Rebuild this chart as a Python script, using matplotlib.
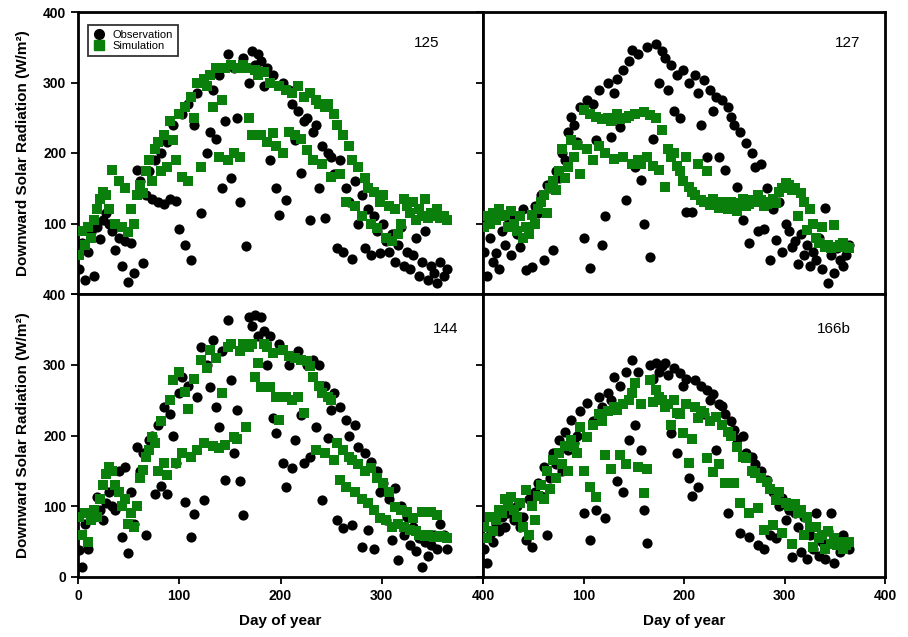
import numpy as np
import matplotlib
matplotlib.use('Agg')
import matplotlib.pyplot as plt
from matplotlib.lines import Line2D

plt.rcParams['font.family'] = ['Liberation Sans', 'DejaVu Sans']

# day of year, sampled every 3 days
days = np.arange(1, 366, 3)

obs125 = [35, 72, 20, 60, 88, 25, 95, 78, 105, 115,
          100, 90, 62, 80, 40, 75, 17, 72, 30, 176,
          160, 44, 140, 175, 135, 190, 130, 200, 128, 215,
          135, 240, 132, 92, 255, 70, 270, 48, 240, 285,
          115, 300, 200, 230, 290, 220, 310, 150, 245, 340,
          165, 320, 250, 130, 335, 68, 300, 345, 325, 340,
          330, 295, 320, 190, 310, 150, 112, 300, 133, 290,
          270, 218, 260, 171, 245, 250, 105, 230, 240, 150,
          210, 108, 200, 195, 170, 65, 190, 60, 150, 130,
          50, 160, 100, 140, 65, 120, 55, 110, 90, 58,
          100, 75, 60, 85, 45, 70, 95, 40, 60, 35,
          55, 80, 25, 45, 90, 20, 40, 30, 15, 45,
          25, 35]
sim125 = [55, 90, 70, 95, 80, 105, 120, 135, 145, 140,
          120, 176, 100, 160, 95, 150, 88, 120, 100, 140,
          155, 143, 175, 190, 160, 205, 215, 175, 225, 180,
          245, 218, 190, 255, 166, 265, 160, 280, 250, 300,
          180, 305, 295, 310, 265, 320, 195, 275, 320, 190,
          325, 200, 320, 195, 325, 320, 250, 225, 318, 310,
          225, 315, 215, 300, 228, 210, 295, 200, 290, 230,
          285, 225, 295, 220, 280, 204, 285, 190, 275, 270,
          185, 265, 270, 166, 255, 240, 170, 225, 130, 210,
          190, 125, 180, 110, 165, 150, 100, 145, 93, 130,
          140, 80, 125, 75, 120, 85, 100, 135, 125, 115,
          130, 105, 120, 110, 135, 108, 115, 110, 120, 108,
          110, 105]

obs127 = [60, 25, 80, 45, 58, 35, 90, 70, 100, 55,
          110, 85, 67, 120, 34, 95, 38, 125, 115, 140,
          48, 155, 150, 62, 175, 165, 200, 190, 230, 251,
          240, 215, 265, 79, 275, 37, 270, 218, 290, 70,
          110, 300, 222, 285, 305, 237, 318, 133, 330, 346,
          180, 340, 162, 100, 350, 53, 220, 355, 300, 345,
          335, 290, 325, 260, 310, 250, 318, 117, 300, 116,
          310, 285, 240, 303, 194, 290, 260, 280, 194, 275,
          176, 265, 251, 240, 152, 230, 105, 214, 72, 200,
          180, 90, 185, 92, 150, 48, 120, 77, 130, 60,
          100, 90, 67, 75, 43, 85, 55, 70, 40, 60,
          48, 80, 35, 122, 15, 55, 30, 65, 48, 40,
          55, 70]
sim127 = [95, 110, 100, 115, 105, 120, 110, 112, 95, 118,
          100, 90, 110, 80, 95, 85, 112, 100, 120, 130,
          140, 115, 150, 160, 148, 175, 205, 165, 180, 218,
          195, 211, 170, 261, 205, 255, 190, 251, 210, 248,
          200, 250, 245, 192, 255, 248, 194, 250, 252, 185,
          256, 190, 185, 258, 195, 254, 181, 250, 176, 233,
          152, 205, 194, 200, 181, 175, 160, 195, 152, 145,
          140, 185, 133, 130, 175, 126, 135, 128, 122, 130,
          126, 120, 130, 125, 118, 129, 135, 125, 128, 133,
          130, 140, 133, 125, 128, 130, 135, 129, 145, 150,
          157, 155, 148, 150, 110, 143, 130, 91, 120, 100,
          80, 72, 95, 67, 70, 65, 98, 67, 70, 72,
          67, 65]

obs144 = [38, 14, 75, 40, 90, 85, 113, 95, 80, 105,
          120, 100, 95, 150, 57, 155, 34, 120, 75, 184,
          150, 175, 59, 193, 200, 118, 215, 128, 240, 117,
          230, 200, 161, 260, 283, 106, 270, 57, 89, 255,
          325, 109, 300, 268, 335, 240, 212, 320, 137, 363,
          278, 175, 236, 135, 88, 330, 368, 355, 370, 340,
          368, 348, 300, 340, 225, 203, 330, 161, 127, 300,
          154, 194, 320, 229, 161, 300, 170, 307, 212, 300,
          109, 270, 196, 236, 260, 80, 240, 69, 222, 200,
          73, 215, 184, 43, 175, 66, 163, 40, 150, 120,
          133, 80, 110, 52, 126, 24, 100, 60, 85, 45,
          70, 37, 55, 14, 50, 30, 45, 60, 40, 75,
          60, 40]
sim144 = [85, 60, 90, 50, 80, 95, 85, 110, 130, 145,
          155, 150, 130, 120, 100, 110, 75, 90, 70, 100,
          140, 151, 170, 180, 198, 190, 150, 221, 161, 144,
          250, 278, 161, 290, 175, 262, 238, 170, 280, 180,
          307, 190, 295, 321, 185, 310, 183, 260, 187, 325,
          330, 198, 195, 320, 330, 212, 325, 330, 283, 302,
          269, 330, 325, 269, 316, 255, 222, 321, 255, 313,
          250, 310, 255, 307, 232, 305, 298, 283, 180, 270,
          260, 175, 255, 250, 165, 190, 137, 180, 127, 170,
          166, 120, 160, 110, 150, 104, 154, 95, 140, 83,
          133, 80, 120, 71, 99, 75, 95, 70, 92, 66,
          83, 65, 60, 92, 58, 60, 92, 57, 88, 58,
          57, 55]

obs166b = [40, 20, 60, 50, 75, 65, 85, 70, 90, 95,
           80, 100, 70, 85, 52, 110, 42, 120, 133, 115,
           156, 59, 140, 175, 160, 194, 150, 205, 180, 222,
           190, 200, 235, 90, 246, 52, 220, 95, 255, 240,
           83, 260, 250, 283, 136, 270, 120, 290, 193, 307,
           215, 290, 180, 95, 48, 300, 280, 303, 290, 298,
           303, 285, 203, 295, 175, 288, 270, 280, 140, 114,
           278, 127, 270, 230, 264, 250, 258, 180, 245, 241,
           230, 90, 220, 208, 195, 62, 200, 175, 56, 170,
           160, 45, 150, 40, 137, 60, 120, 55, 100, 112,
           80, 95, 28, 90, 70, 35, 85, 26, 60, 40,
           90, 30, 50, 25, 65, 90, 20, 45, 35, 60,
           45, 40]
sim166b = [70, 55, 85, 65, 80, 95, 90, 110, 100, 113,
           95, 85, 105, 70, 123, 60, 100, 80, 115, 130,
           110, 150, 125, 165, 140, 175, 160, 185, 150, 194,
           184, 175, 212, 150, 198, 127, 215, 113, 230, 220,
           172, 235, 153, 240, 236, 172, 245, 160, 250, 260,
           274, 155, 245, 119, 153, 279, 248, 265, 255, 250,
           240, 245, 215, 250, 232, 230, 204, 245, 161, 195,
           240, 225, 235, 232, 168, 220, 148, 226, 160, 215,
           133, 205, 200, 133, 184, 105, 170, 168, 90, 150,
           147, 97, 140, 66, 134, 125, 73, 109, 120, 62,
           105, 100, 47, 103, 90, 94, 60, 85, 70, 42,
           71, 55, 60, 40, 65, 47, 55, 45, 50, 40,
           45, 50]

panels = [('125', obs125, sim125), ('127', obs127, sim127),
          ('144', obs144, sim144), ('166b', obs166b, sim166b)]
label_pos = [(0.83, 0.89), (0.875, 0.89), (0.875, 0.875), (0.83, 0.875)]

fig = plt.figure(figsize=(9.08, 6.37), dpi=100)
x0, xm, x1 = 78 / 908, 483 / 908, 885 / 908
y1, ym, y0 = 1 - 12 / 637, 1 - 294 / 637, 1 - 577 / 637
rects = [[x0, ym, xm - x0, y1 - ym], [xm, ym, x1 - xm, y1 - ym],
         [x0, y0, xm - x0, ym - y0], [xm, y0, x1 - xm, ym - y0]]

green = '#0b7f0b'
for k, (name, obs, sim) in enumerate(panels):
    ax = fig.add_axes(rects[k])
    ax.scatter(days, obs, s=54, c='black', marker='o', linewidths=0, zorder=2)
    ax.scatter(days, sim, s=42, c=green, marker='s', linewidths=0, zorder=3)
    ax.set_xlim(0, 400)
    ax.set_ylim(0, 400)
    for sp in ax.spines.values():
        sp.set_linewidth(2)
    ax.tick_params(direction='out', length=5, width=1.3, labelsize=10,
                   top=False, right=False)
    ax.set_xticks([0, 100, 200, 300, 400])
    ax.set_yticks([0, 100, 200, 300, 400])
    for t in ax.get_xticklabels() + ax.get_yticklabels():
        t.set_fontweight('bold')
    top = k < 2
    left = k % 2 == 0
    if top:
        ax.tick_params(bottom=False, labelbottom=False)
    else:
        ax.set_xlabel('Day of year', fontsize=11, fontweight='bold', labelpad=8)
        if not left:
            ax.set_xticklabels(['', '100', '200', '300', '400'])
    if left:
        ax.set_ylabel('Downward Solar Radiation (W/m²)', fontsize=11,
                      fontweight='bold', labelpad=9)
        if top:
            ax.set_yticklabels(['', '100', '200', '300', '400'])
    else:
        ax.tick_params(labelleft=False)
    ax.text(label_pos[k][0], label_pos[k][1], name, transform=ax.transAxes,
            fontsize=11, ha='left', va='center')
    if k == 0:
        handles = [Line2D([], [], ls='none', marker='o', color='black', markersize=7),
                   Line2D([], [], ls='none', marker='s', color=green, markersize=6.5)]
        leg = ax.legend(handles, ['Observation', 'Simulation'], loc='upper left',
                        bbox_to_anchor=(0.01, 0.975), fontsize=8, frameon=True,
                        fancybox=False, edgecolor='black', handletextpad=0.6,
                        borderpad=0.45, labelspacing=0.15, handlelength=1.2)
        leg.get_frame().set_linewidth(1.3)

plt.savefig('out.png', dpi=100)
